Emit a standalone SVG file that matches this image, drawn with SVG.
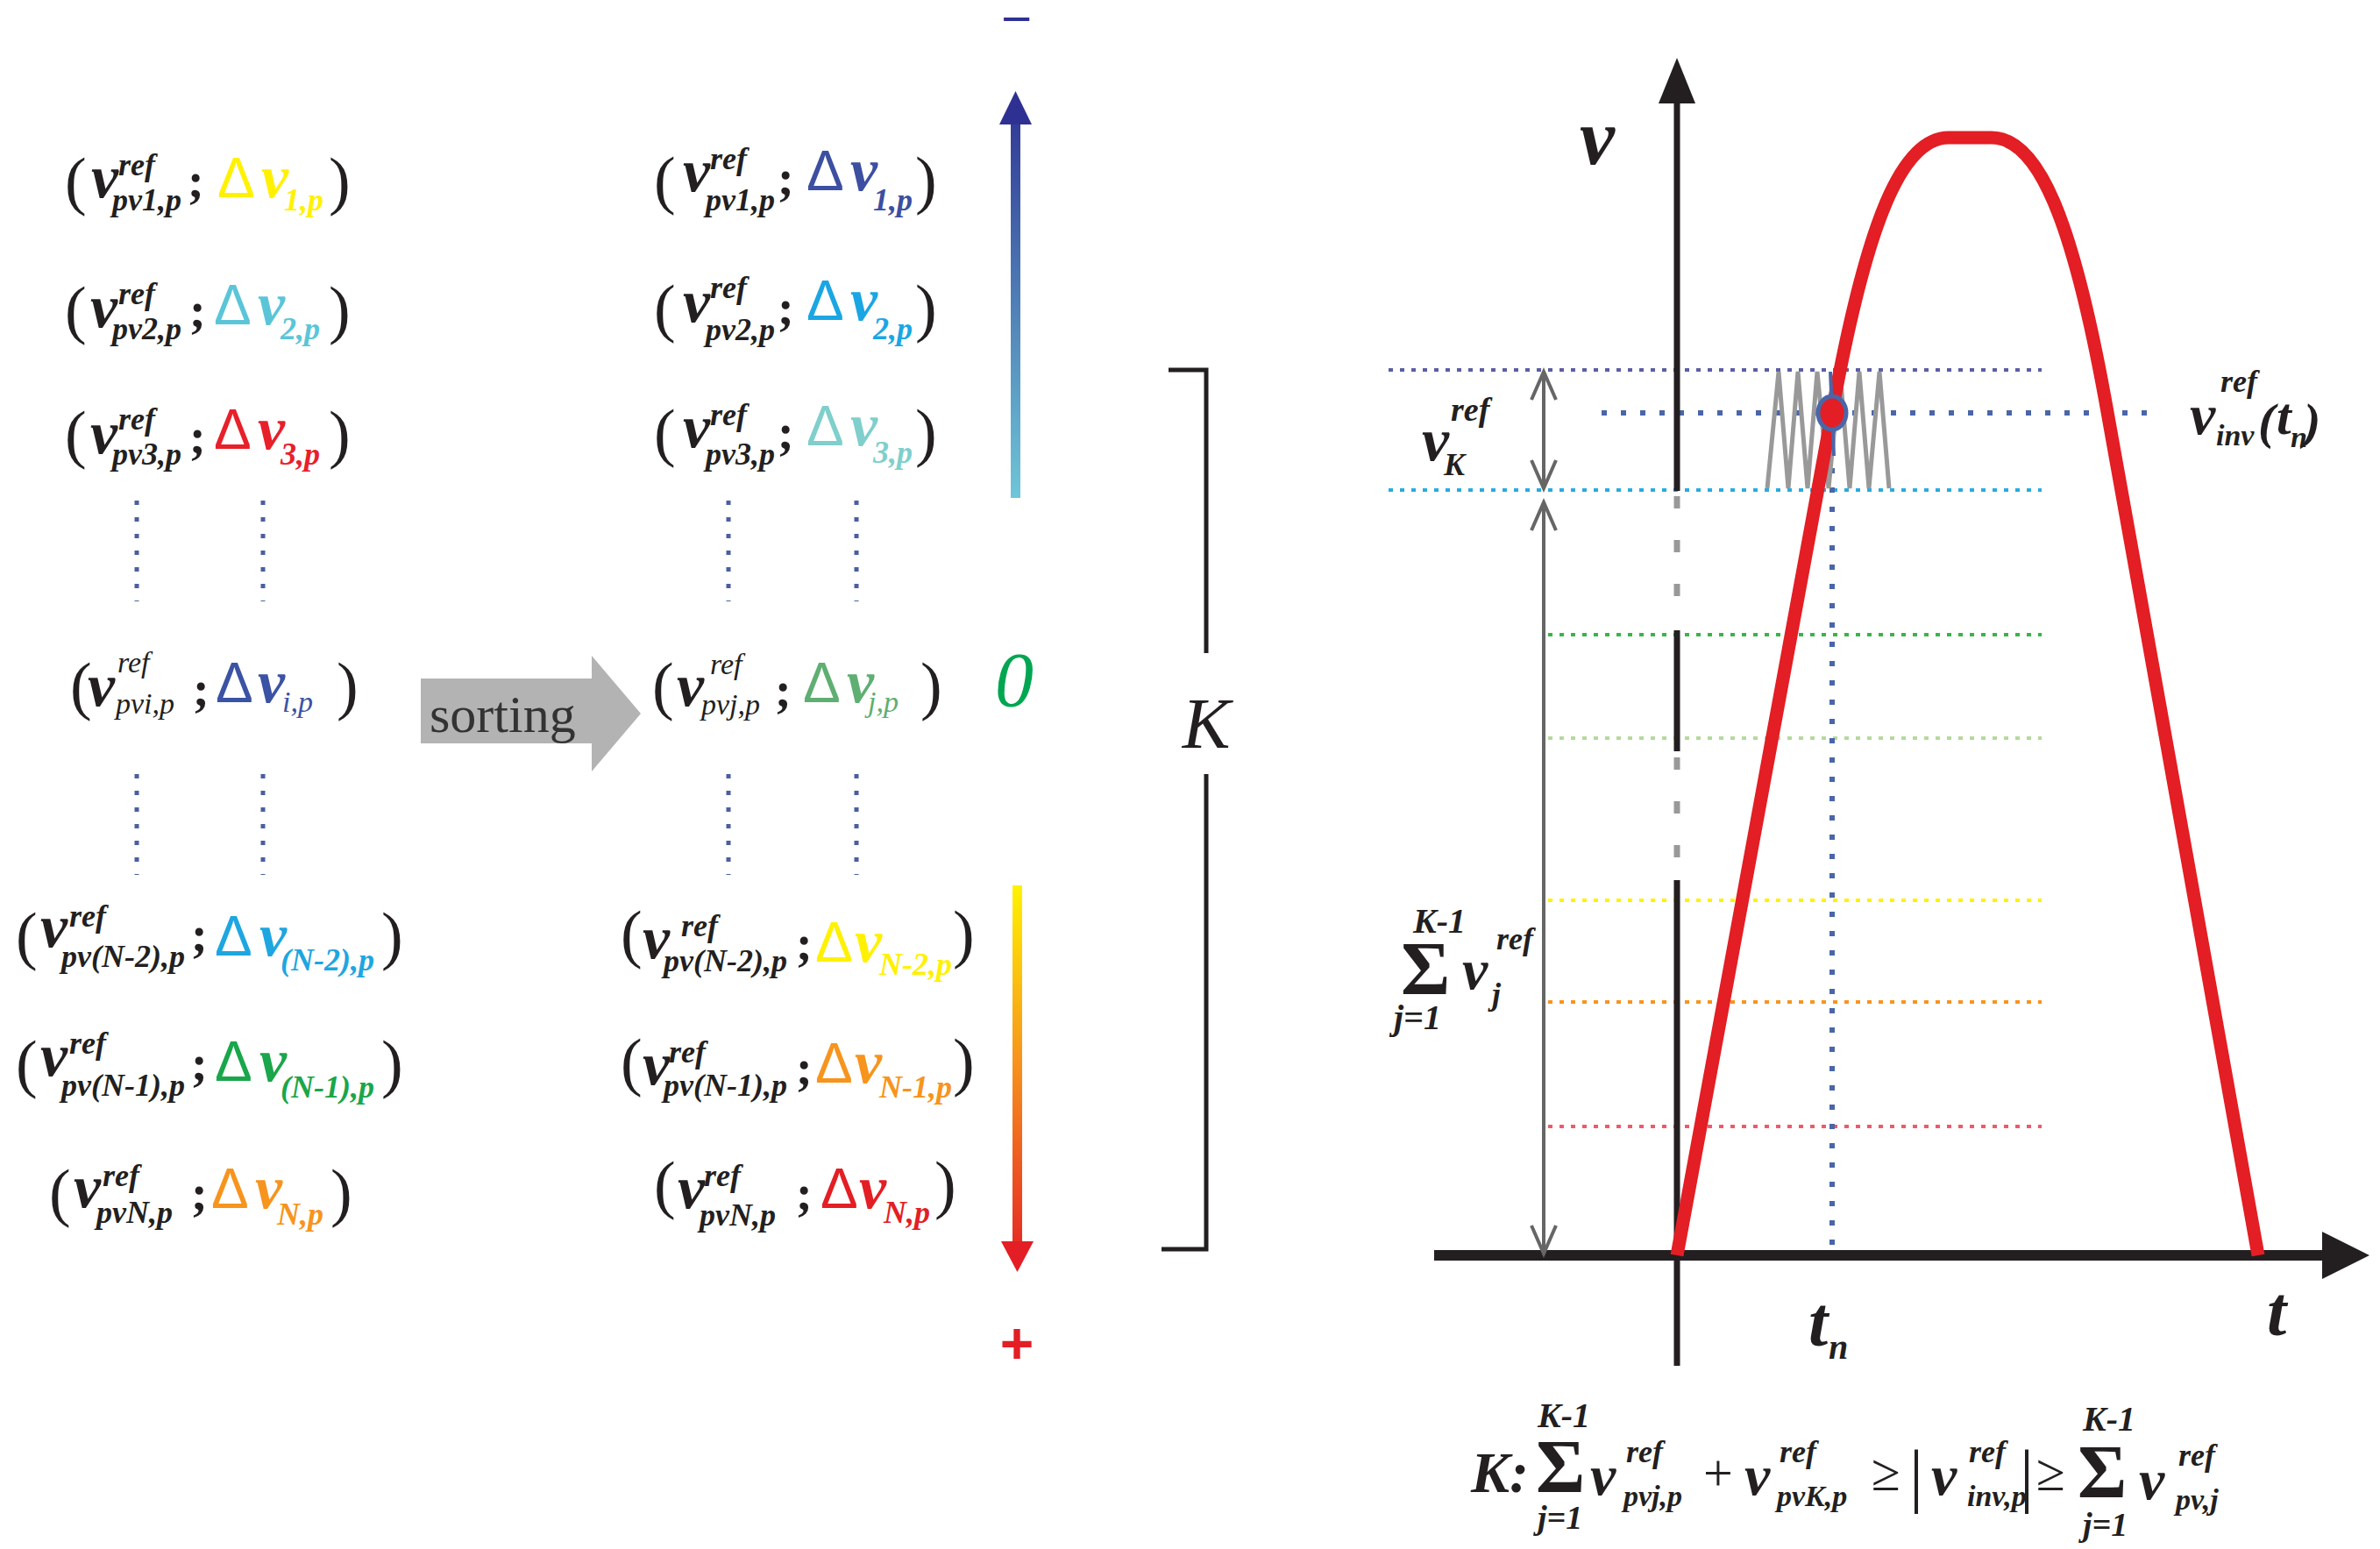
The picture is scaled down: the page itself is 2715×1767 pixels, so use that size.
<svg xmlns="http://www.w3.org/2000/svg" width="2715" height="1767" viewBox="0 0 2715 1767">
<defs>
<style>
.t{font-family:"Liberation Serif","Times New Roman",serif;fill:#231f20}
.p{font-size:74px}
.v{font-size:70px;font-weight:bold;font-style:italic}
.s{font-size:36px;font-weight:bold;font-style:italic}
.si{font-size:34px;font-style:italic}
.sc{font-size:56px;font-weight:bold}
.d{font-family:"Liberation Sans",Arial,sans-serif;font-size:64px}
.bi{font-weight:bold;font-style:italic}
.vd{stroke:#4a5fa0;stroke-width:5;stroke-dasharray:5 14;fill:none}
.hd{stroke-width:4;stroke-dasharray:5 8;fill:none}
.bd{stroke:#4a66a8;stroke-width:6;stroke-dasharray:6 16;fill:none}
.ga{stroke:#666;stroke-width:4;fill:none}
</style>
<linearGradient id="gTop" gradientUnits="userSpaceOnUse" x1="0" y1="104" x2="0" y2="568">
<stop offset="0" stop-color="#2e3192"/><stop offset="1" stop-color="#6ec6d8"/>
</linearGradient>
<linearGradient id="gBot" gradientUnits="userSpaceOnUse" x1="0" y1="1010" x2="0" y2="1451">
<stop offset="0" stop-color="#fff200"/><stop offset="0.45" stop-color="#f7941d"/><stop offset="1" stop-color="#e31e24"/>
</linearGradient>
</defs>
<rect width="2715" height="1767" fill="#fff"/>

<!-- left column -->
<g id="L1">
<text class="t p" x="74" y="231">(</text><text class="t v" x="104" y="225">v</text><text class="t s" x="135" y="200">ref</text><text class="t s" x="128" y="240">pv1,p</text><text class="t sc" x="214" y="225">;</text>
<text class="d" x="248" y="225" fill="#fff100">Δ</text><text class="t v" x="298" y="225" style="fill:#fff100">v</text><text class="t s" x="324" y="240" style="fill:#fff100">1,p</text><text class="t p" x="375" y="231">)</text>
</g>
<g id="L2">
<text class="t p" x="74" y="378">(</text><text class="t v" x="103" y="373">v</text><text class="t s" x="135" y="347">ref</text><text class="t s" x="128" y="387">pv2,p</text><text class="t sc" x="216" y="373">;</text>
<text class="d" x="244" y="370" fill="#5bc5d8">Δ</text><text class="t v" x="294" y="370" style="fill:#5bc5d8">v</text><text class="t s" x="320" y="387" style="fill:#5bc5d8">2,p</text><text class="t p" x="375" y="378">)</text>
</g>
<g id="L3">
<text class="t p" x="74" y="520">(</text><text class="t v" x="103" y="517">v</text><text class="t s" x="135" y="490">ref</text><text class="t s" x="128" y="530">pv3,p</text><text class="t sc" x="216" y="517">;</text>
<text class="d" x="244" y="512" fill="#e8202a">Δ</text><text class="t v" x="294" y="512" style="fill:#e8202a">v</text><text class="t s" x="320" y="530" style="fill:#e8202a">3,p</text><text class="t p" x="375" y="520">)</text>
</g>
<g id="Li">
<text class="t p" x="80" y="807">(</text><text class="t v" x="100" y="805">v</text><text class="t si" x="134" y="767">ref</text><text class="t si" x="132" y="814">pvi,p</text><text class="t sc" x="220" y="805">;</text>
<text class="d" x="246" y="801" fill="#3a53a4">Δ</text><text class="t v" x="294" y="801" style="fill:#3a53a4">v</text><text class="t si" x="322" y="812" style="fill:#3a53a4">i,p</text><text class="t p" x="384" y="807">)</text>
</g>
<g id="LN2">
<text class="t p" x="18" y="1092">(</text><text class="t v" x="46" y="1080">v</text><text class="t s" x="79" y="1057">ref</text><text class="t s" x="70" y="1103">pv(N-2),p</text><text class="t sc" x="218" y="1085">;</text>
<text class="d" x="245" y="1090" fill="#1ea6e0">Δ</text><text class="t v" x="296" y="1090" style="fill:#1ea6e0">v</text><text class="t s" x="320" y="1107" style="fill:#1ea6e0">(N-2),p</text><text class="t p" x="435" y="1092">)</text>
</g>
<g id="LN1">
<text class="t p" x="18" y="1238">(</text><text class="t v" x="46" y="1227">v</text><text class="t s" x="79" y="1202">ref</text><text class="t s" x="70" y="1250">pv(N-1),p</text><text class="t sc" x="218" y="1232">;</text>
<text class="d" x="245" y="1233" fill="#1aa64a">Δ</text><text class="t v" x="296" y="1233" style="fill:#1aa64a">v</text><text class="t s" x="320" y="1252" style="fill:#1aa64a">(N-1),p</text><text class="t p" x="435" y="1238">)</text>
</g>
<g id="LN">
<text class="t p" x="56" y="1385">(</text><text class="t v" x="84" y="1377">v</text><text class="t s" x="117" y="1353">ref</text><text class="t s" x="110" y="1395">pvN,p</text><text class="t sc" x="218" y="1380">;</text>
<text class="d" x="241" y="1378" fill="#f7941d">Δ</text><text class="t v" x="291" y="1378" style="fill:#f7941d">v</text><text class="t s" x="316" y="1397" style="fill:#f7941d">N,p</text><text class="t p" x="377" y="1385">)</text>
</g>

<!-- right (sorted) column -->
<g id="R1">
<text class="t p" x="746" y="230">(</text><text class="t v" x="779" y="218">v</text><text class="t s" x="810" y="193">ref</text><text class="t s" x="805" y="240">pv1,p</text><text class="t sc" x="887" y="222">;</text>
<text class="d" x="920" y="217" fill="#3c4fa0">Δ</text><text class="t v" x="970" y="217" style="fill:#3c4fa0">v</text><text class="t s" x="996" y="240" style="fill:#3c4fa0">1,p</text><text class="t p" x="1044" y="230">)</text>
</g>
<g id="R2">
<text class="t p" x="746" y="376">(</text><text class="t v" x="779" y="367">v</text><text class="t s" x="810" y="340">ref</text><text class="t s" x="805" y="388">pv2,p</text><text class="t sc" x="887" y="370">;</text>
<text class="d" x="920" y="365" fill="#1ba6e3">Δ</text><text class="t v" x="970" y="365" style="fill:#1ba6e3">v</text><text class="t s" x="996" y="387" style="fill:#1ba6e3">2,p</text><text class="t p" x="1044" y="376">)</text>
</g>
<g id="R3">
<text class="t p" x="746" y="518">(</text><text class="t v" x="779" y="510">v</text><text class="t s" x="810" y="485">ref</text><text class="t s" x="805" y="530">pv3,p</text><text class="t sc" x="887" y="512">;</text>
<text class="d" x="920" y="508" fill="#7fcfcc">Δ</text><text class="t v" x="970" y="508" style="fill:#7fcfcc">v</text><text class="t s" x="996" y="528" style="fill:#7fcfcc">3,p</text><text class="t p" x="1044" y="518">)</text>
</g>
<g id="Rj">
<text class="t p" x="744" y="807">(</text><text class="t v" x="772" y="805">v</text><text class="t si" x="810" y="769">ref</text><text class="t si" x="800" y="815">pvj,p</text><text class="t sc" x="884" y="806">;</text>
<text class="d" x="916" y="801" fill="#5fae72">Δ</text><text class="t v" x="966" y="801" style="fill:#5fae72">v</text><text class="t si" x="990" y="812" style="fill:#5fae72">j,p</text><text class="t p" x="1050" y="807">)</text>
</g>
<g id="RN2">
<text class="t p" x="708" y="1090">(</text><text class="t v" x="733" y="1093">v</text><text class="t s" x="777" y="1068">ref</text><text class="t s" x="757" y="1108">pv(N-2),p</text><text class="t sc" x="908" y="1095">;</text>
<text class="d" x="930" y="1097" fill="#fff100">Δ</text><text class="t v" x="975" y="1097" style="fill:#fff100">v</text><text class="t s" x="1003" y="1112" style="fill:#fff100">N-2,p</text><text class="t p" x="1087" y="1090">)</text>
</g>
<g id="RN1">
<text class="t p" x="708" y="1236">(</text><text class="t v" x="733" y="1237">v</text><text class="t s" x="763" y="1212">ref</text><text class="t s" x="757" y="1250">pv(N-1),p</text><text class="t sc" x="908" y="1237">;</text>
<text class="d" x="930" y="1235" fill="#f7941d">Δ</text><text class="t v" x="975" y="1235" style="fill:#f7941d">v</text><text class="t s" x="1003" y="1252" style="fill:#f7941d">N-1,p</text><text class="t p" x="1087" y="1236">)</text>
</g>
<g id="RN">
<text class="t p" x="746" y="1376">(</text><text class="t v" x="773" y="1378">v</text><text class="t s" x="803" y="1353">ref</text><text class="t s" x="798" y="1398">pvN,p</text><text class="t sc" x="908" y="1380">;</text>
<text class="d" x="936" y="1378" fill="#e31e24">Δ</text><text class="t v" x="980" y="1378" style="fill:#e31e24">v</text><text class="t s" x="1008" y="1395" style="fill:#e31e24">N,p</text><text class="t p" x="1066" y="1376">)</text>
</g>

<!-- ellipsis dots -->
<g id="dots">
<line class="vd" x1="156" y1="571" x2="156" y2="686"/>
<line class="vd" x1="300" y1="571" x2="300" y2="686"/>
<line class="vd" x1="156" y1="883" x2="156" y2="998"/>
<line class="vd" x1="300" y1="883" x2="300" y2="998"/>
<line class="vd" x1="831" y1="571" x2="831" y2="686"/>
<line class="vd" x1="977" y1="571" x2="977" y2="686"/>
<line class="vd" x1="831" y1="883" x2="831" y2="998"/>
<line class="vd" x1="977" y1="883" x2="977" y2="998"/>
</g>

<!-- sorting arrow -->
<g id="sorting">
<polygon points="480,774 675,774 675,748 731,814 675,880 675,848 480,848" fill="#b3b3b3"/>
<text x="490" y="835" style="font-family:'Liberation Serif','Times New Roman',serif;font-size:60px;fill:#333">sorting</text>
</g>

<!-- gradient scale -->
<g id="scale">
<text transform="translate(1160,34) scale(1,0.62)" x="0" y="0" text-anchor="middle" style="font-family:'Liberation Sans',Arial,sans-serif;font-size:58px;font-weight:bold;fill:#2e3192">−</text>
<rect x="1153" y="140" width="11" height="428" fill="url(#gTop)"/>
<polygon points="1140,142 1158.5,104 1177,142" fill="#2e3192"/>
<text x="1157" y="805" text-anchor="middle" class="t" style="font-size:88px;font-style:italic;fill:#00a651">0</text>
<rect x="1155" y="1010" width="11" height="408" fill="url(#gBot)"/>
<polygon points="1142,1416 1160.5,1451 1179,1416" fill="#e31e24"/>
<text x="1160" y="1555" text-anchor="middle" style="font-family:'Liberation Sans',Arial,sans-serif;font-size:66px;font-weight:bold;fill:#e31e24">+</text>
</g>

<!-- K bracket -->
<g id="bracket">
<path d="M1333,422 H1376 V745 M1376,883 V1425 H1325" fill="none" stroke="#231f20" stroke-width="5"/>
<text x="1376" y="853" text-anchor="middle" class="t" style="font-size:82px;font-style:italic">K</text>
</g>

<!-- chart -->
<g id="chart-lines">
<line class="hd" x1="1584" y1="422" x2="2329" y2="422" stroke="#5b5ea6"/>
<line class="hd" x1="1584" y1="559" x2="2329" y2="559" stroke="#29abe2"/>
<line class="hd" x1="1766" y1="724" x2="2329" y2="724" stroke="#39b54a"/>
<line class="hd" x1="1766" y1="842" x2="2329" y2="842" stroke="#b5d99c"/>
<line class="hd" x1="1766" y1="1027" x2="2329" y2="1027" stroke="#fff200"/>
<line class="hd" x1="1766" y1="1143" x2="2329" y2="1143" stroke="#f7941d"/>
<line class="hd" x1="1766" y1="1285" x2="2329" y2="1285" stroke="#ef5a6a"/>
<line class="bd" x1="1827" y1="471" x2="2460" y2="471"/>
<line class="bd" x1="2090" y1="490" x2="2090" y2="1428"/>
</g>
<g id="axes">
<polygon points="1892,118 1913,66 1934,118" fill="#231f20"/>
<line x1="1913" y1="116" x2="1913" y2="560" stroke="#231f20" stroke-width="7"/>
<line x1="1913" y1="566" x2="1913" y2="716" stroke="#999" stroke-width="7" stroke-dasharray="14 36"/>
<line x1="1913" y1="719" x2="1913" y2="857" stroke="#231f20" stroke-width="7"/>
<line x1="1913" y1="864" x2="1913" y2="1000" stroke="#999" stroke-width="7" stroke-dasharray="14 36"/>
<line x1="1913" y1="1004" x2="1913" y2="1558" stroke="#231f20" stroke-width="7"/>
<line x1="1636" y1="1432" x2="2652" y2="1432" stroke="#231f20" stroke-width="12"/>
<polygon points="2649,1405 2703,1432 2649,1459" fill="#231f20"/>
</g>
<g id="arrows-dim">
<line class="ga" x1="1761" y1="424" x2="1761" y2="557"/>
<path class="ga" d="M1747,456 L1761,424 L1775,456 M1747,525 L1761,557 L1775,525"/>
<line class="ga" x1="1761" y1="573" x2="1761" y2="1430"/>
<path class="ga" d="M1747,605 L1761,573 L1775,605 M1747,1398 L1761,1430 L1775,1398"/>
</g>
<g id="zigzag">
<polyline points="2016,557 2029,424 2040,557 2051,424 2062,557 2073,424 2086,557 2099,424 2110,557 2121,424 2132,557 2144,424 2155,557" fill="none" stroke="#999" stroke-width="5"/>
</g>
<g id="curve">
<path d="M1913,1432 L2090,470 C2130,250 2170,157 2223,157 L2272,157 C2325,157 2365,250 2404,470 L2576,1432" fill="none" stroke="#e31e24" stroke-width="15" stroke-linejoin="round"/>
</g>
<g id="point">
<line x1="2088" y1="424" x2="2092" y2="520" stroke="#4a66a8" stroke-width="4"/>
<ellipse cx="2090" cy="471" rx="16" ry="19" fill="#e31e24" stroke="#4a66a8" stroke-width="5"/>
</g>

<!-- chart labels -->
<g id="labels" class="t bi">
<text x="1802" y="187" style="font-size:90px">v</text>
<text x="1622" y="525" style="font-size:70px">v</text>
<text x="1655" y="480" style="font-size:38px">ref</text>
<text x="1647" y="542" style="font-size:36px">K</text>
<text x="2498" y="495" style="font-size:66px">v</text>
<text x="2533" y="447" style="font-size:36px">ref</text>
<text x="2528" y="508" style="font-size:34px">inv</text>
<text x="2576" y="500" style="font-size:58px">(</text>
<text x="2597" y="495" style="font-size:60px">t</text>
<text x="2613" y="510" style="font-size:34px">n</text>
<text x="2628" y="500" style="font-size:58px">)</text>
<text x="2063" y="1535" style="font-size:80px">t</text>
<text x="2086" y="1550" style="font-size:40px">n</text>
<text x="2586" y="1523" style="font-size:80px">t</text>
<text x="1612" y="1064" style="font-size:40px">K-1</text>
<text x="1598" y="1134" style="font-size:86px;font-style:normal">Σ</text>
<text x="1590" y="1174" style="font-size:40px">j=1</text>
<text x="1668" y="1128" style="font-size:66px">v</text>
<text x="1707" y="1083" style="font-size:36px">ref</text>
<text x="1702" y="1146" style="font-size:36px">j</text>
</g>

<!-- bottom formula -->
<g id="formula" class="t bi">
<text x="1678" y="1702" style="font-size:66px">K:</text>
<text x="1754" y="1628" style="font-size:40px">K-1</text>
<text x="1752" y="1702" style="font-size:86px;font-style:normal">Σ</text>
<text x="1754" y="1744" style="font-size:38px">j=1</text>
<text x="1814" y="1705" style="font-size:66px">v</text>
<text x="1855" y="1668" style="font-size:36px">ref</text>
<text x="1852" y="1718" style="font-size:34px">pvj,p</text>
<text x="1943" y="1700" style="font-size:60px;font-weight:normal;font-style:normal">+</text>
<text x="1990" y="1705" style="font-size:66px">v</text>
<text x="2030" y="1668" style="font-size:36px">ref</text>
<text x="2027" y="1718" style="font-size:34px">pvK,p</text>
<text x="2135" y="1700" style="font-size:60px;font-weight:normal;font-style:normal">≥</text>
<text x="2178" y="1710" style="font-size:80px;font-weight:normal;font-style:normal">|</text>
<text x="2203" y="1705" style="font-size:66px">v</text>
<text x="2246" y="1668" style="font-size:36px">ref</text>
<text x="2244" y="1718" style="font-size:34px">inv,p</text>
<text x="2304" y="1710" style="font-size:80px;font-weight:normal;font-style:normal">|</text>
<text x="2323" y="1700" style="font-size:60px;font-weight:normal;font-style:normal">≥</text>
<text x="2376" y="1632" style="font-size:40px">K-1</text>
<text x="2370" y="1708" style="font-size:86px;font-style:normal">Σ</text>
<text x="2376" y="1752" style="font-size:38px">j=1</text>
<text x="2440" y="1710" style="font-size:66px">v</text>
<text x="2485" y="1672" style="font-size:36px">ref</text>
<text x="2482" y="1722" style="font-size:34px">pv,j</text>
</g>
</svg>
